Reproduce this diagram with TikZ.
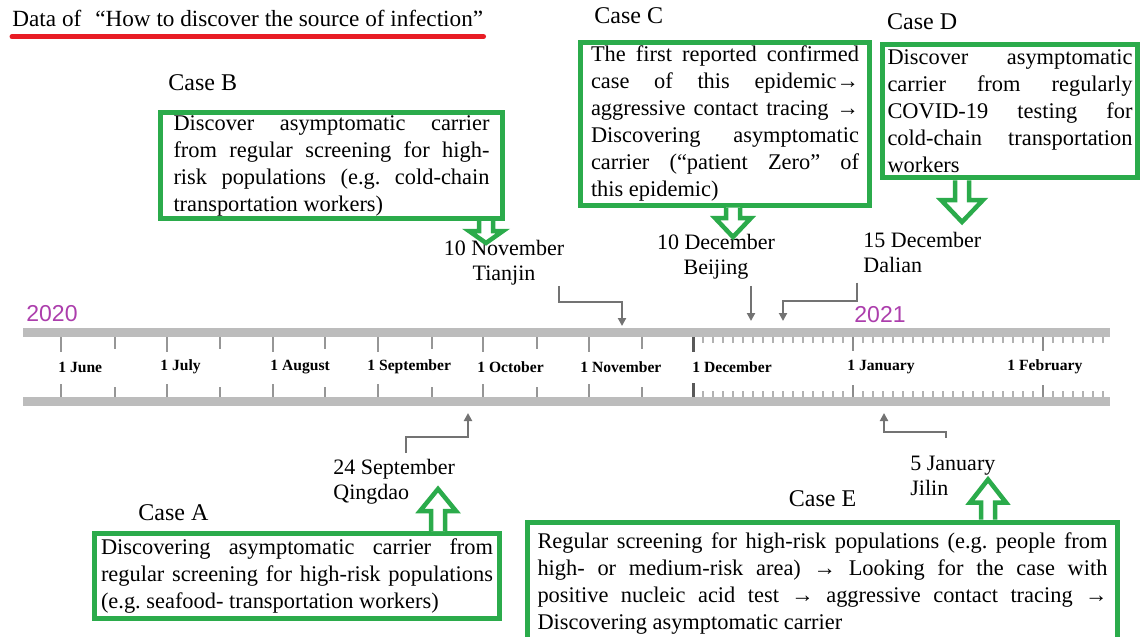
\documentclass[tikz,border=0pt]{standalone}
\usepackage{fontspec}
\setmainfont{Liberation Serif}
\newfontfamily\yearfont{Liberation Sans}
\usetikzlibrary{positioning,arrows.meta}

\definecolor{boxgreen}{RGB}{43,171,75}
\definecolor{yearpurple}{RGB}{172,62,172}
\definecolor{barGray}{RGB}{188,188,188}
\definecolor{tickGray}{RGB}{150,150,150}
\definecolor{lineRed}{RGB}{232,28,36}

\tikzset{
  box/.style={draw=boxgreen, line width=2.5pt, fill=white, align=justify, inner ysep=1pt,
    font=\fontsize{11.2}{13.5}\selectfont\frenchspacing},
  hollow/.style={draw=boxgreen, line width=2.25pt, fill=white},
  evt/.style={draw=black!55, line width=1pt, -{Triangle[length=4pt,width=4pt]}},
  datelbl/.style={font=\fontsize{11}{12.5}\selectfont, inner sep=0pt},
  caselbl/.style={font=\fontsize{12}{14}\selectfont, inner sep=0pt},
  month/.style={font=\fontsize{7.8}{9}\selectfont\bfseries, anchor=west, inner sep=0pt},
  year/.style={font=\yearfont\fontsize{11.5}{13}\selectfont, text=yearpurple, inner sep=0pt},
  pics/dnarrow/.style n args={3}{code={
    \draw[hollow] (-7,0) -- (-7,#1) -- (-#3,#1) -- (0,{#1+#2}) -- (#3,#1) -- (7,#1) -- (7,0);}},
}

\begin{document}
\begin{tikzpicture}[x=0.5pt,y=-0.5pt]
\useasboundingbox (0,0) rectangle (1143,636);

% title
\node[font=\fontsize{11.6}{14}\selectfont, anchor=base west, inner sep=0pt] (title) at (12,27)
  {Data of\hspace{7pt}“How to discover the source of infection”};
\draw[lineRed, line width=2.5pt, line cap=round]
  ([yshift=-4.5pt]title.south west) -- ([yshift=-4.5pt]title.south east);

% timeline
\draw[barGray, line width=4.5pt] (23,332.5) -- (1110,332.5);
\draw[barGray, line width=4.5pt] (23,401.5) -- (1110,401.5);
\foreach \x in {703,713,...,1103}
  \draw[black!30, line width=0.6pt] (\x,337) -- (\x,343) (\x,391) -- (\x,397);
\foreach \x in {115,220,325,432,537,642}
  \draw[tickGray, line width=1pt] (\x,337) -- (\x,349) (\x,387) -- (\x,397);
\foreach \x in {61,167,273,378,483,589}
  \draw[tickGray, line width=1pt] (\x,337) -- (\x,352) (\x,384) -- (\x,397);
\draw[black!65, line width=1.5pt] (693,337) -- (693,352) (693,383) -- (693,397);
\foreach \x in {853,1043}
  \draw[black!45, line width=1.2pt] (\x,337) -- (\x,351) (\x,385) -- (\x,397);

\foreach \x/\m in {58/June,160/July,270/August,367/September,477/October,580/November,692/December,847/January,1007/February}
  \node[month] (m_\m) at (\x,367) {1 \m};

\node[year] (y_2020) at (52,314) {2020};
\node[year] (y_2021) at (880,315) {2021};

% dates on the line
\coordinate (sep24) at (468,413);
\coordinate (nov10) at (622,326);
\coordinate (dec10) at (751,321);
\coordinate (dec15) at (783,321);
\coordinate (jan5)  at (884,413);

\node[datelbl, align=center] (lbl_TJ) at (504,263) {10 November\\Tianjin};
\node[datelbl, align=center] (lbl_BJ) at (716,257) {10 December\\Beijing};
\node[datelbl, align=left, anchor=west] (lbl_DL) at (863,252) {15 December\\Dalian};
\node[datelbl, align=left, anchor=west] (lbl_QD) at (333,482) {24 September\\Qingdao};
\node[datelbl, align=left, anchor=west] (lbl_JL) at (910,476) {5 January\\Jilin};

\draw[evt] ([xshift=-3pt]lbl_TJ.south east) -- ++(0,16) -| (nov10);
\draw[evt] ([yshift=-3pt]lbl_BJ.south -| dec10) -- (dec10);
\draw[evt] ([shift={(-3pt,-5pt)}]lbl_DL.south west) -- ++(0,18) -| (dec15);
\draw[evt] ([shift={(6pt,3pt)}]lbl_QD.north) -- ++(0,-16) -| (sep24);
\draw[evt] ([shift={(-3.5pt,9pt)}]lbl_JL.north) -- ++(0,-6) -| (jan5);

% case boxes
\node[box, text width=158pt, inner xsep=6.5pt, minimum height=53pt] (box_B) at (331.5,165.5)
  {Discover asymptomatic carrier\linebreak from regular screening for high-\linebreak
   risk populations (e.g. cold-chain\linebreak transportation workers)};
\node[box, text width=134pt, inner xsep=5.25pt, minimum height=81pt] (box_C) at (725,124)
  {The first reported confirmed\linebreak case of this epidemic→\linebreak
   aggressive contact tracing →\linebreak Discovering asymptomatic\linebreak
   carrier (“patient Zero” of\linebreak this epidemic)};
\node[box, text width=122.5pt, inner xsep=2.6pt, minimum height=66.5pt] (box_D) at (1010,111.5)
  {Discover asymptomatic\linebreak carrier from regularly\linebreak COVID-19 testing for\linebreak
   cold-chain transportation\linebreak workers};
\node[box, text width=196pt, inner xsep=3.25pt, minimum height=42.5pt] (box_A) at (297,576)
  {Discovering asymptomatic carrier from\linebreak regular screening for high-risk populations\linebreak
   (e.g. seafood- transportation workers)};
\node[box, text width=285pt, inner xsep=5pt, minimum height=62pt] (box_E) at (822.5,584)
  {Regular screening for high-risk populations (e.g. people from\linebreak
   high- or medium-risk area) → Looking for the case with\linebreak
   positive nucleic acid test → aggressive contact tracing →\linebreak
   Discovering asymptomatic carrier};

\node[caselbl, above right=9.5pt and 5pt of box_B.north west] (case_B) {Case B};
\node[caselbl, above right=8pt and 8pt of box_C.north west] (case_C) {Case C};
\node[caselbl, above right=6pt and 3.5pt of box_D.north west] (case_D) {Case D};
\node[caselbl, above right=5pt and 23pt of box_A.north west] (case_A) {Case A};
\node[caselbl, above=6pt of box_E.north] (case_E) {Case E};

% green arrows from the boxes
\pic at (486,0 |- box_B.south) {dnarrow={10}{12}{17}};
\pic at (733,0 |- box_C.south) {dnarrow={10.5}{19}{18}};
\pic at (962,0 |- box_D.south) {dnarrow={19.5}{22}{21}};
\pic[yscale=-1] at (438,0 |- box_A.north) {dnarrow={20}{22}{18}};
\pic[yscale=-1] at (988,0 |- box_E.north) {dnarrow={17}{23}{18}};
\end{tikzpicture}
\end{document}
